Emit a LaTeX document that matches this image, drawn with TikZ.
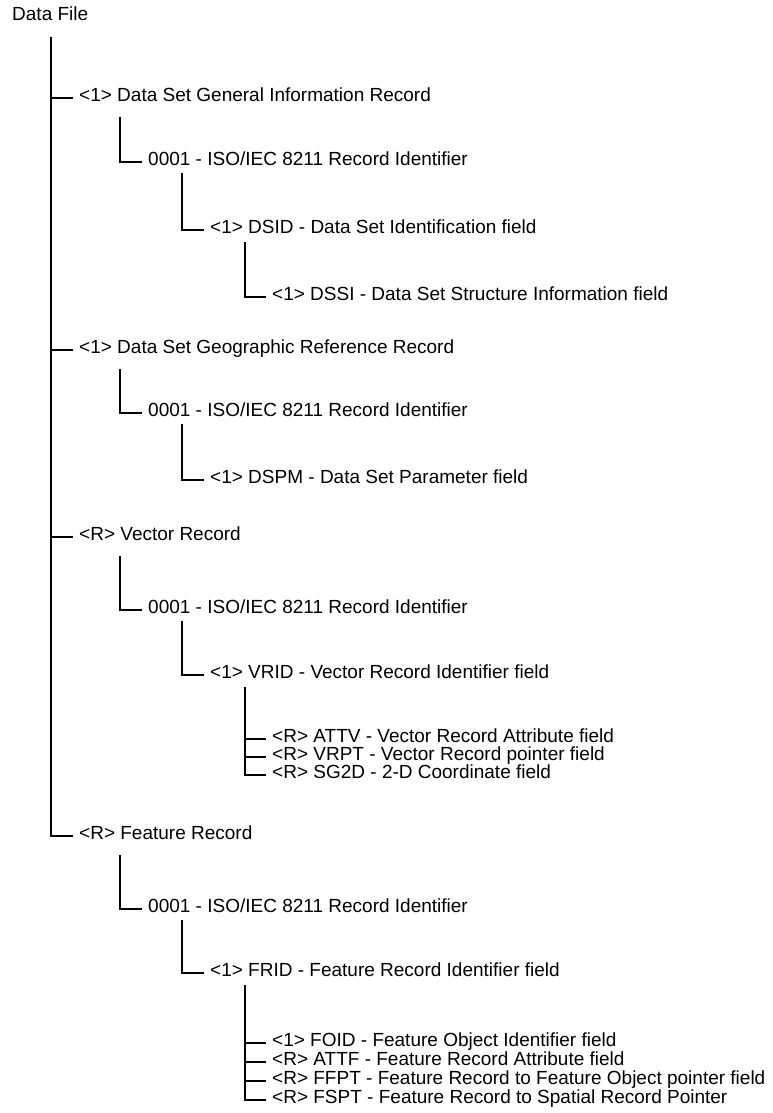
\documentclass[tikz,border=0pt]{standalone}
\usepackage{fontspec}
\setmainfont{Liberation Sans}
\usetikzlibrary{calc}

\begin{document}
\begin{tikzpicture}[x=1pt,y=-1pt,font=\fontsize{19}{22}\selectfont,
    every node/.style={anchor=west,inner xsep=6pt,inner ysep=0pt,text height=0.72em,text depth=0.05em},
    twig/.style={line width=1.8pt}]
  \useasboundingbox (0,0) rectangle (773,1113);

  \node (df) at (6,17) {Data File};

  \node (gen)   at (73,98)   {<1> Data Set General Information Record};
  \node (gid)   at (142,162) {0001 - ISO/IEC 8211 Record Identifier};
  \node (dsid)  at (204,230) {<1> DSID - Data Set Identification field};
  \node (dssi)  at (266,297) {<1> DSSI - Data Set Structure Information field};

  \node (geo)   at (73,350)  {<1> Data Set Geographic Reference Record};
  \node (geoid) at (142,413) {0001 - ISO/IEC 8211 Record Identifier};
  \node (dspm)  at (204,480) {<1> DSPM - Data Set Parameter field};

  \node (vec)   at (73,537)  {<R> Vector Record};
  \node (vecid) at (142,610) {0001 - ISO/IEC 8211 Record Identifier};
  \node (vrid)  at (204,675) {<1> VRID - Vector Record Identifier field};
  \node (attv)  at (266,739) {<R> ATTV - Vector Record Attribute field};
  \node (vrpt)  at (266,757) {<R> VRPT - Vector Record pointer field};
  \node (sgtd)  at (266,775) {<R> SG2D - 2-D Coordinate field};

  \node (feat)   at (73,836)  {<R> Feature Record};
  \node (featid) at (142,909) {0001 - ISO/IEC 8211 Record Identifier};
  \node (frid)   at (204,973) {<1> FRID - Feature Record Identifier field};
  \node (foid)   at (266,1043) {<1> FOID - Feature Object Identifier field};
  \node (attf)   at (266,1062) {<R> ATTF - Feature Record Attribute field};
  \node (ffpt)   at (266,1081) {<R> FFPT - Feature Record to Feature Object pointer field};
  \node (fspt)   at (266,1100) {<R> FSPT - Feature Record to Spatial Record Pointer};

  \draw[twig] ($(df.west)+(45pt,-20pt)$) coordinate (t0) |- (feat.west);
  \foreach \n in {gen,geo,vec}
    \draw[twig] (t0 |- \n.west) -- (\n.west);

  \draw[twig] ($(gen.west)+(47pt,-19pt)$) |- (gid.west);
  \draw[twig] ($(geo.west)+(47pt,-19pt)$) |- (geoid.west);
  \draw[twig] ($(vec.west)+(47pt,-19pt)$) |- (vecid.west);
  \draw[twig] ($(feat.west)+(47pt,-19pt)$) |- (featid.west);

  \draw[twig] ($(gid.west)+(40pt,-11pt)$) |- (dsid.west);
  \draw[twig] ($(geoid.west)+(40pt,-11pt)$) |- (dspm.west);
  \draw[twig] ($(vecid.west)+(40pt,-11pt)$) |- (vrid.west);
  \draw[twig] ($(featid.west)+(40pt,-11pt)$) |- (frid.west);

  \draw[twig] ($(dsid.west)+(41pt,-12pt)$) |- (dssi.west);
  \draw[twig] ($(vrid.west)+(41pt,-12pt)$) coordinate (v3) |- (sgtd.west);
  \foreach \n in {attv,vrpt}
    \draw[twig] (v3 |- \n.west) -- (\n.west);
  \draw[twig] ($(frid.west)+(41pt,-12pt)$) coordinate (f3) |- (fspt.west);
  \foreach \n in {foid,attf,ffpt}
    \draw[twig] (f3 |- \n.west) -- (\n.west);
\end{tikzpicture}
\end{document}
